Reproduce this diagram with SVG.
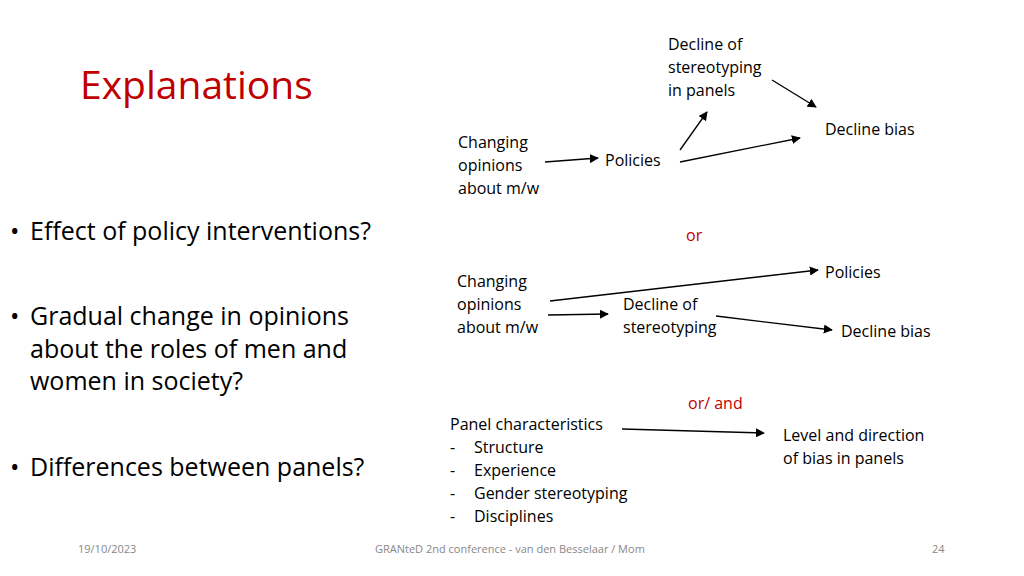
<svg xmlns="http://www.w3.org/2000/svg" width="1024" height="576" viewBox="0 0 1024 576">
<style>
text{font-family:"Open Sans","Liberation Sans",sans-serif;fill:#000}
.s{font-size:16px}
.b{font-size:25px}
.r{fill:#C00000}
.f{font-size:11px;fill:#888}
line{stroke:#000;stroke-width:1.3;marker-end:url(#a)}
</style>
<defs><marker id="a" viewBox="0 0 10 10" refX="9" refY="5" markerWidth="7" markerHeight="7" orient="auto"><path d="M0,0L10,5L0,10z" fill="#000"/></marker></defs>
<rect width="1024" height="576" fill="#fff"/>
<text x="80" y="99" font-size="39" class="r">Explanations</text>
<g id="bullets">
<text x="10" y="240" class="b">•</text><text x="30" y="240" class="b">Effect of policy interventions?</text>
<text x="10" y="325" class="b">•</text><text x="30" y="325" class="b">Gradual change in opinions</text>
<text x="30" y="358" class="b">about the roles of men and</text>
<text x="30" y="390" class="b">women in society?</text>
<text x="10" y="476" class="b">•</text><text x="30" y="476" class="b">Differences between panels?</text>
</g>
<g id="n1"><text class="s" x="668" y="50">Decline of</text><text class="s" x="668" y="73">stereotyping</text><text class="s" x="668" y="96">in panels</text></g>
<g id="n2"><text class="s" x="825" y="135">Decline bias</text></g>
<g id="n3"><text class="s" x="458" y="148">Changing</text><text class="s" x="458" y="171">opinions</text><text class="s" x="458" y="194">about m/w</text></g>
<g id="n4"><text class="s" x="605" y="166">Policies</text></g>
<text class="s r" x="686" y="241">or</text>
<g id="n5"><text class="s" x="825" y="278">Policies</text></g>
<g id="n6"><text class="s" x="457" y="287">Changing</text><text class="s" x="457" y="310">opinions</text><text class="s" x="457" y="333">about m/w</text></g>
<g id="n7"><text class="s" x="623" y="310">Decline of</text><text class="s" x="623" y="333">stereotyping</text></g>
<g id="n8"><text class="s" x="841" y="337">Decline bias</text></g>
<text class="s r" x="688" y="409">or/ and</text>
<g id="n9"><text class="s" x="450" y="430">Panel characteristics</text>
<text class="s" x="450" y="453">-</text><text class="s" x="474" y="453">Structure</text>
<text class="s" x="450" y="476">-</text><text class="s" x="474" y="476">Experience</text>
<text class="s" x="450" y="499">-</text><text class="s" x="474" y="499">Gender stereotyping</text>
<text class="s" x="450" y="522">-</text><text class="s" x="474" y="522">Disciplines</text></g>
<g id="n10"><text class="s" x="783" y="441">Level and direction</text><text class="s" x="783" y="464">of bias in panels</text></g>
<g id="connectors">
<line x1="545" y1="162" x2="598" y2="158"/>
<line x1="680" y1="150" x2="707" y2="112"/>
<line x1="772" y1="80" x2="816" y2="107"/>
<line x1="680" y1="162" x2="800" y2="138"/>
<line x1="550" y1="301" x2="818" y2="270"/>
<line x1="548" y1="315" x2="608" y2="314"/>
<line x1="716" y1="316" x2="832" y2="330"/>
<line x1="622" y1="429" x2="764" y2="433"/>
</g>
<text class="f" x="78" y="553">19/10/2023</text>
<text class="f" x="375" y="553">GRANteD 2nd conference - van den Besselaar / Mom</text>
<text class="f" x="932" y="553">24</text>
</svg>
